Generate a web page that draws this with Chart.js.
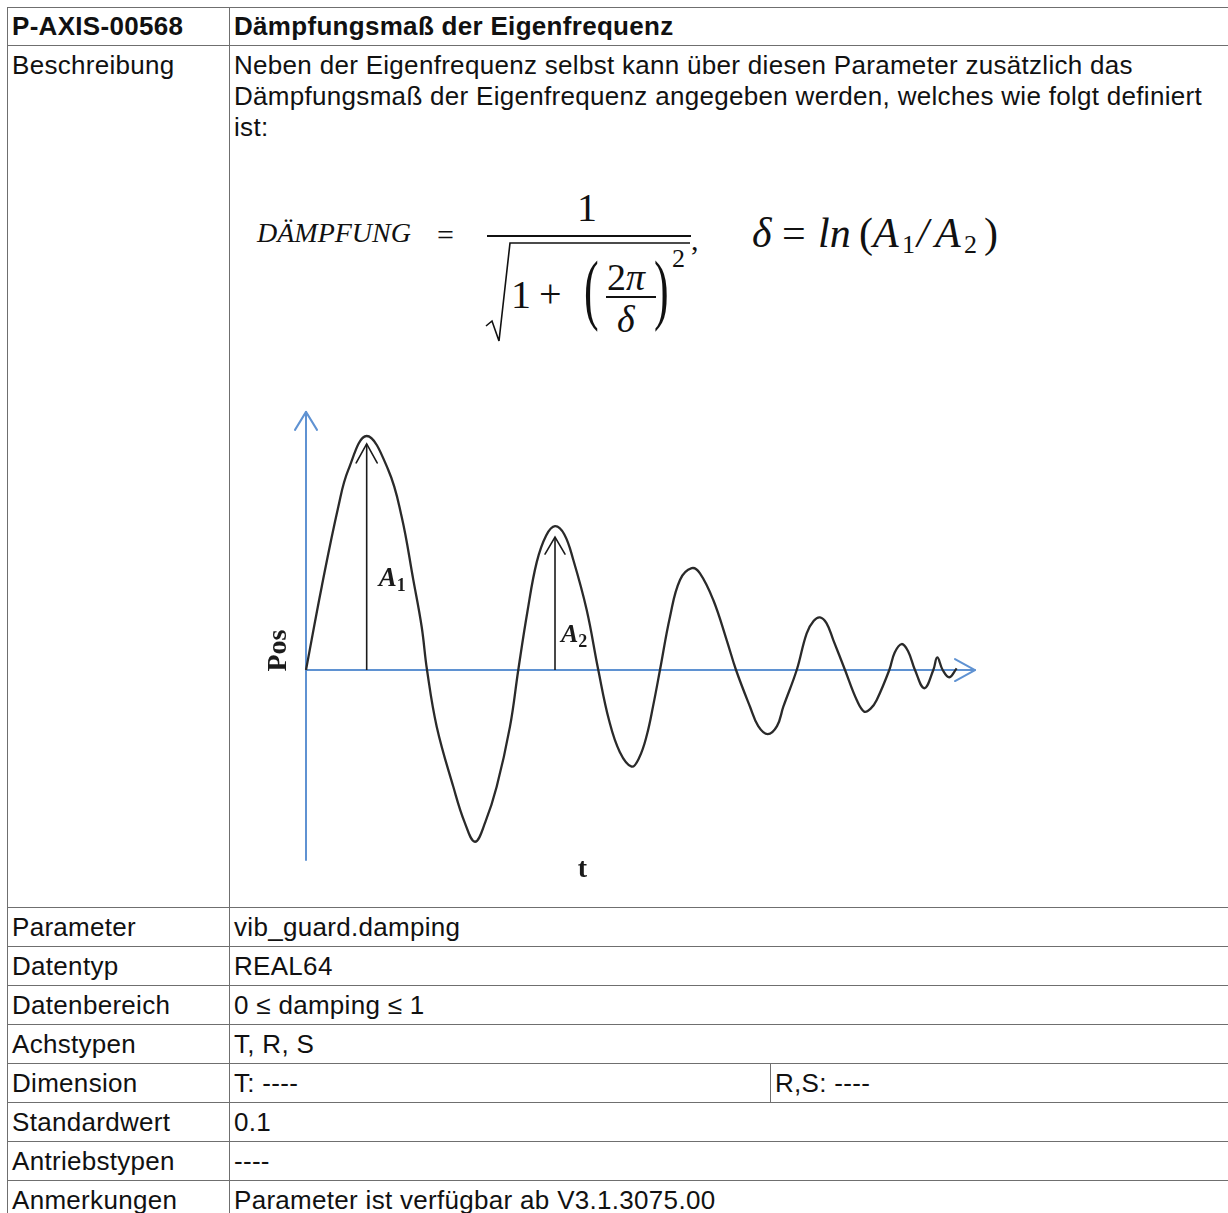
<!DOCTYPE html>
<html>
<head>
<meta charset="utf-8">
<script src="https://cdn.jsdelivr.net/npm/chart.js@4/dist/chart.umd.min.js"></script>
<style>
  html, body { margin:0; padding:0; background:#fff; }
  body { width:1228px; height:1213px; overflow:hidden; position:relative; }
  table.p { position:absolute; left:7px; top:7px; border-collapse:collapse; table-layout:fixed; width:1250px;
    font-family:"Liberation Sans", Arial, sans-serif; font-size:26px; letter-spacing:0.3px; line-height:31px; color:#111; }
  table.p td { border:1px solid #6f6f6f; padding:4px 3px 3px 4px; vertical-align:top; white-space:nowrap; }
  table.p tr.h td { font-weight:bold; padding-top:3px; padding-bottom:3px; }
  .f { position:absolute; font-family:"Liberation Serif", "DejaVu Serif", serif; line-height:1; color:#111; white-space:nowrap; }
  #chartBox { position:absolute; left:246px; top:395px; width:740px; height:500px; }
</style>
</head>
<body>
<table class="p">
  <colgroup><col style="width:222px"><col style="width:541px"><col></colgroup>
  <tr class="h"><td>P-AXIS-00568</td><td colspan="2">Dämpfungsmaß der Eigenfrequenz</td></tr>
  <tr><td>Beschreibung</td><td colspan="2">Neben der Eigenfrequenz selbst kann über diesen Parameter zusätzlich das<br>Dämpfungsmaß der Eigenfrequenz angegeben werden, welches wie folgt definiert<br>ist:<div style="height:761px"></div></td></tr>
  <tr><td>Parameter</td><td colspan="2">vib_guard.damping</td></tr>
  <tr><td>Datentyp</td><td colspan="2">REAL64</td></tr>
  <tr><td>Datenbereich</td><td colspan="2">0 ≤ damping ≤ 1</td></tr>
  <tr><td>Achstypen</td><td colspan="2">T, R, S</td></tr>
  <tr><td>Dimension</td><td>T: ----</td><td>R,S: ----</td></tr>
  <tr><td>Standardwert</td><td colspan="2">0.1</td></tr>
  <tr><td>Antriebstypen</td><td colspan="2">----</td></tr>
  <tr><td>Anmerkungen</td><td colspan="2">Parameter ist verfügbar ab V3.1.3075.00</td></tr>
</table>

<!-- formula -->
<span class="f" style="left:257px; top:219px; font-size:28px; font-style:italic;">DÄMPFUNG</span>
<span class="f" style="left:437px; top:220px; font-size:30px;">=</span>
<span class="f" style="left:577px; top:188px; font-size:40px;">1</span>
<div style="position:absolute; left:487px; top:235px; width:204px; height:2px; background:#111;"></div>
<svg style="position:absolute; left:480px; top:235px;" width="220" height="115">
  <path d="M6 91 L12 86 L19 106 L30 8 L210 8" fill="none" stroke="#111" stroke-width="1.6" stroke-linejoin="miter"/>
</svg>
<span class="f" style="left:511px; top:275px; font-size:40px;">1</span>
<span class="f" style="left:539px; top:274px; font-size:40px;">+</span>
<span class="f" style="left:584px; top:250px; font-size:44px; transform:scaleY(1.8); transform-origin:0 0;">(</span>
<span class="f" style="left:607px; top:258px; font-size:38px;">2<i>π</i></span>
<div style="position:absolute; left:606px; top:296px; width:50px; height:2px; background:#111;"></div>
<span class="f" style="left:617px; top:300px; font-size:38px; font-style:italic;">δ</span>
<span class="f" style="left:654px; top:250px; font-size:44px; transform:scaleY(1.8); transform-origin:0 0;">)</span>
<span class="f" style="left:672px; top:246px; font-size:26px;">2</span>
<span class="f" style="left:691px; top:225px; font-size:30px;">,</span>

<span class="f" style="left:752px; top:212px; font-size:42px; font-style:italic;">δ</span>
<span class="f" style="left:782px; top:212px; font-size:42px;">=</span>
<span class="f" style="left:818px; top:212px; font-size:42px; font-style:italic;">ln</span>
<span class="f" style="left:859px; top:212px; font-size:42px;">(</span>
<span class="f" style="left:873px; top:212px; font-size:42px; font-style:italic;">A</span>
<span class="f" style="left:902px; top:232px; font-size:26px;">1</span>
<span class="f" style="left:917px; top:212px; font-size:42px; font-style:italic;">/</span>
<span class="f" style="left:935px; top:212px; font-size:42px; font-style:italic;">A</span>
<span class="f" style="left:964px; top:232px; font-size:26px;">2</span>
<span class="f" style="left:984px; top:212px; font-size:42px;">)</span>

<div id="chartBox"><canvas id="c" width="740" height="500"></canvas></div>

<script>
// ---- data (t = time, pos = position) ----
const tValues = [0, 2.35, 4.83, 6.32, 9.07, 12.30, 14.30, 16.04, 17.29, 18.09,
  19.54, 22.02, 23.7, 25.26, 26.8, 28.50, 30.49, 31.73,
  33.1, 34.48, 35.9, 37.22, 38.6, 39.96, 41.96, 43.69,
  45.3, 46.9, 48.68, 49.8, 50.93, 51.91, 52.91,
  54.41, 55.90, 57.65, 58.89, 60.88, 62.88, 64.28,
  66.37, 67.6, 69.01, 70.4, 71.35, 73.35,
  74.84, 75.9, 76.83, 77.8, 78.82, 80.57,
  82.32, 83.45, 84.4, 85.31, 87.19,
  88.0, 89.04, 90.0, 91.03, 92.42, 93.77,
  94.36, 95.17, 96.16, 97.26];
const posValues = [0, 35.6, 69.8, 85.5, 100, 85.5, 65.5, 38.5, 18.5, 0,
  -24.2, -49.9, -65, -73.4, -65, -49.9, -24.2, 0,
  25, 46, 57.5, 61.5, 58, 47.0, 25.6, 0,
  -21.5, -35, -41.3, -37.5, -28, -15, 0,
  22.8, 38.5, 43.5, 41.3, 29.9, 12.8, 0,
  -15.7, -24, -27.4, -24, -15.7, 0,
  15.7, 21, 22.5, 20, 12.8, 0,
  -12.8, -17.8, -16.5, -12.8, 0,
  7.5, 11.1, 8, 0, -7.8, 0,
  5.4, 0, -3.1, 0.7];

// amplitude arrows A1, A2
const ampNames = ['A', 'A'];
const ampSubs = ['1', '2'];
const ampT = [9.07, 37.22];
const ampTop = [96.6, 56.8];
const ampLabelPos = [36, 12];

// axis extents
const axisT = [0, 100];
const axisPos = [-81.2, 110.3];
const axisTitles = ['t', 'Pos'];
const tTitleAt = 41.3;

// ---- view range (layout) ----
const X_MIN = -8.969, X_MAX = 101.644;
const Y_MIN = -96.15, Y_MAX = 117.52;

const BLUE = '#5f92d2';
const INK = '#1b1b1b';

function chevron(ctx, tipX, tipY, dx, dy, len, half) {
  const bx = tipX - dx * len, by = tipY - dy * len;
  const px = -dy, py = dx;
  ctx.beginPath();
  ctx.moveTo(bx + px * half, by + py * half);
  ctx.lineTo(tipX, tipY);
  ctx.lineTo(bx - px * half, by - py * half);
  ctx.stroke();
}

const figurePlugin = {
  id: 'figure',
  beforeDatasetsDraw(chart) {
    const ctx = chart.ctx, xs = chart.scales.x, ys = chart.scales.y;
    const x0 = xs.getPixelForValue(axisT[0]), x1 = xs.getPixelForValue(axisT[1]);
    const y0 = ys.getPixelForValue(0);
    const yb = ys.getPixelForValue(axisPos[0]), yt = ys.getPixelForValue(axisPos[1]);
    ctx.save();
    ctx.strokeStyle = BLUE; ctx.lineWidth = 2; ctx.lineCap = 'round'; ctx.lineJoin = 'round';
    ctx.beginPath(); ctx.moveTo(x0, yb); ctx.lineTo(x0, yt); ctx.stroke();
    ctx.beginPath(); ctx.moveTo(x0, y0); ctx.lineTo(x1, y0); ctx.stroke();
    chevron(ctx, x0, yt, 0, -1, 18, 11);
    chevron(ctx, x1, y0, 1, 0, 20, 11);
    ctx.restore();
  },
  afterDatasetsDraw(chart) {
    const ctx = chart.ctx, xs = chart.scales.x, ys = chart.scales.y;
    ctx.save();
    ctx.strokeStyle = INK; ctx.lineWidth = 1.6; ctx.lineCap = 'round';
    const heads = [[19, 10.5], [17, 10]];
    const fonts = [[27, 18, 12], [26, 18, 6]];
    ampT.forEach((t, i) => {
      const x = xs.getPixelForValue(t), y = ys.getPixelForValue(ampTop[i]);
      chevron(ctx, x, y, 0, -1, heads[i][0], heads[i][1]);
      const [fs, ss, off] = fonts[i];
      const lx = x + off, ly = ys.getPixelForValue(ampLabelPos[i]);
      ctx.fillStyle = INK; ctx.textBaseline = 'alphabetic'; ctx.textAlign = 'left';
      ctx.font = 'bold italic ' + fs + 'px "Liberation Serif"';
      ctx.fillText(ampNames[i], lx, ly);
      const w = ctx.measureText(ampNames[i]).width;
      ctx.font = 'bold ' + ss + 'px "Liberation Serif"';
      ctx.fillText(ampSubs[i], lx + w, ly + 5);
    });
    const x0 = xs.getPixelForValue(axisT[0]), y0 = ys.getPixelForValue(0);
    ctx.font = 'bold 28px "Liberation Serif"';
    ctx.textAlign = 'center'; ctx.textBaseline = 'alphabetic';
    ctx.fillText(axisTitles[0], xs.getPixelForValue(tTitleAt), ys.getPixelForValue(axisPos[0]) + 17);
    ctx.save();
    ctx.translate(x0 - 20, y0 - 19.5);
    ctx.rotate(-Math.PI / 2);
    ctx.fillText(axisTitles[1], 0, 0);
    ctx.restore();
    ctx.restore();
  }
};

const datasets = [{
  label: 'Pos',
  data: tValues.map((t, i) => ({ x: t, y: posValues[i] })),
  showLine: true, borderColor: '#2a2a2a', borderWidth: 2.3, pointRadius: 0,
  tension: 0.4, fill: false
}];
ampT.forEach((t, i) => datasets.push({
  label: ampNames[i] + ampSubs[i],
  data: [{ x: t, y: 0 }, { x: t, y: ampTop[i] }],
  showLine: true, borderColor: INK, borderWidth: 1.6, pointRadius: 0, fill: false
}));

new Chart(document.getElementById('c'), {
  type: 'scatter',
  data: { datasets },
  options: {
    responsive: false, animation: false, events: [],
    layout: { padding: 0 },
    plugins: { legend: { display: false }, tooltip: { enabled: false } },
    scales: {
      x: { type: 'linear', min: X_MIN, max: X_MAX, display: false },
      y: { type: 'linear', min: Y_MIN, max: Y_MAX, display: false }
    }
  },
  plugins: [figurePlugin]
});
</script>
</body>
</html>
